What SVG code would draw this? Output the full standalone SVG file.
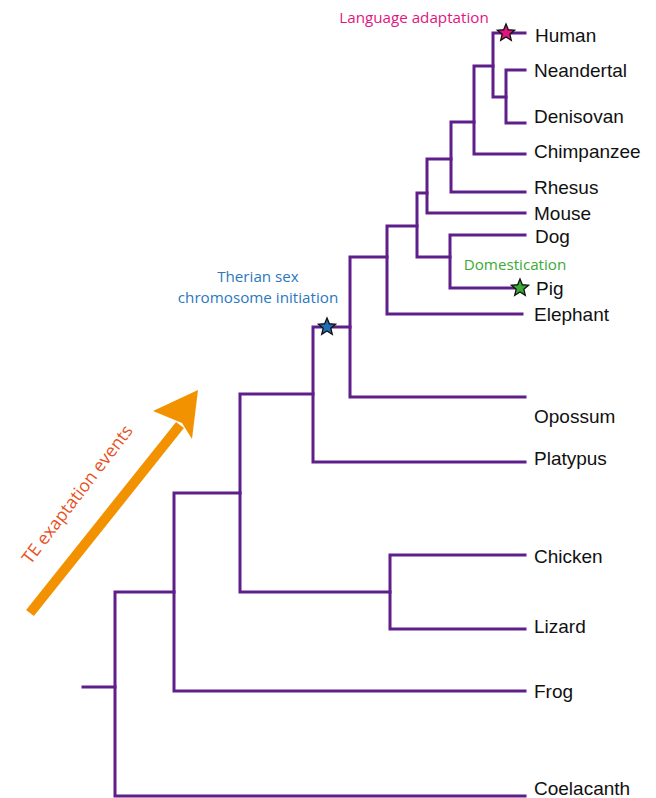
<svg xmlns="http://www.w3.org/2000/svg" width="656" height="798" viewBox="0 0 656 798">
<style>
.br{fill:none;stroke:#5f1f8a;stroke-width:3;stroke-linecap:square;stroke-linejoin:miter}
.lb{font-family:"Liberation Sans",Arial,sans-serif;font-size:19px;fill:#111}
.an{font-family:"Open Sans","Noto Sans",sans-serif;font-size:15.2px}
.st{stroke:#111;stroke-width:1.3;stroke-linejoin:miter}
</style>
<defs>
<path id="star" d="M0,-9 L2.35,-3.24 L8.56,-2.78 L3.8,1.24 L5.29,7.28 L0,4 L-5.29,7.28 L-3.8,1.24 L-8.56,-2.78 L-2.35,-3.24 Z"/>
</defs>
<rect width="656" height="798" fill="#fff"/>
<g id="connectors">
<path class="br" d="M83,687 H115"/>
<path class="br" d="M525,796 H115 V592 H174"/>
<path class="br" d="M525,691 H174 V493 H240"/>
<path class="br" d="M390,592 H240 V394 H313"/>
<path class="br" d="M525,555 H390 V629 H525"/>
<path class="br" d="M525,462 H313 V327 H350"/>
<path class="br" d="M525,397 H350 V257 H387"/>
<path class="br" d="M522,314 H387 V226 H417"/>
<path class="br" d="M450,257 H417 V193 H427"/>
<path class="br" d="M525,235 H450 V288 H515"/>
<path class="br" d="M525,213 H427 V159 H451"/>
<path class="br" d="M525,192 H451 V122 H474"/>
<path class="br" d="M525,154 H474 V66 H493"/>
<path class="br" d="M525,33 H493 V97 H506"/>
<path class="br" d="M525,70 H506 V123 H525"/>
</g>
<g id="human"><text class="lb" x="535" y="42">Human</text></g>
<g id="neandertal"><text class="lb" x="534" y="77">Neandertal</text></g>
<g id="denisovan"><text class="lb" x="534" y="123">Denisovan</text></g>
<g id="chimpanzee"><text class="lb" x="534" y="158">Chimpanzee</text></g>
<g id="rhesus"><text class="lb" x="534" y="194">Rhesus</text></g>
<g id="mouse"><text class="lb" x="534" y="220">Mouse</text></g>
<g id="dog"><text class="lb" x="535" y="243">Dog</text></g>
<g id="pig"><text class="lb" x="536" y="295">Pig</text></g>
<g id="elephant"><text class="lb" x="534" y="321">Elephant</text></g>
<g id="opossum"><text class="lb" x="534" y="423">Opossum</text></g>
<g id="platypus"><text class="lb" x="534" y="465">Platypus</text></g>
<g id="chicken"><text class="lb" x="534" y="563">Chicken</text></g>
<g id="lizard"><text class="lb" x="534" y="633">Lizard</text></g>
<g id="frog"><text class="lb" x="534" y="698">Frog</text></g>
<g id="coelacanth"><text class="lb" x="534" y="795">Coelacanth</text></g>
<g id="language-adaptation">
<text class="an" x="414" y="23" text-anchor="middle" fill="#e2157f">Language adaptation</text>
<use href="#star" x="506" y="33" class="st" fill="#e2157f"/>
</g>
<g id="domestication">
<text class="an" x="515" y="270" text-anchor="middle" fill="#3aaa35">Domestication</text>
<use href="#star" x="520" y="288" class="st" fill="#3aaa35"/>
</g>
<g id="therian">
<text class="an" x="258" y="282" text-anchor="middle" fill="#2a78be">Therian sex</text>
<text class="an" x="258" y="303" text-anchor="middle" fill="#2a78be">chromosome initiation</text>
<use href="#star" x="327" y="327" class="st" fill="#1f6fb5"/>
</g>
<g id="te-arrow">
<line x1="30" y1="613" x2="180" y2="425" stroke="#f39200" stroke-width="10"/>
<path d="M198,390 L153,411 L182,423 L192,439 Z" fill="#f39200"/>
<text x="78" y="495" transform="rotate(-52.5 78 495)" text-anchor="middle" dy="5" font-family="'Open Sans','Noto Sans',sans-serif" font-size="17.5" fill="#e8501e">TE exaptation events</text>
</g>
</svg>
